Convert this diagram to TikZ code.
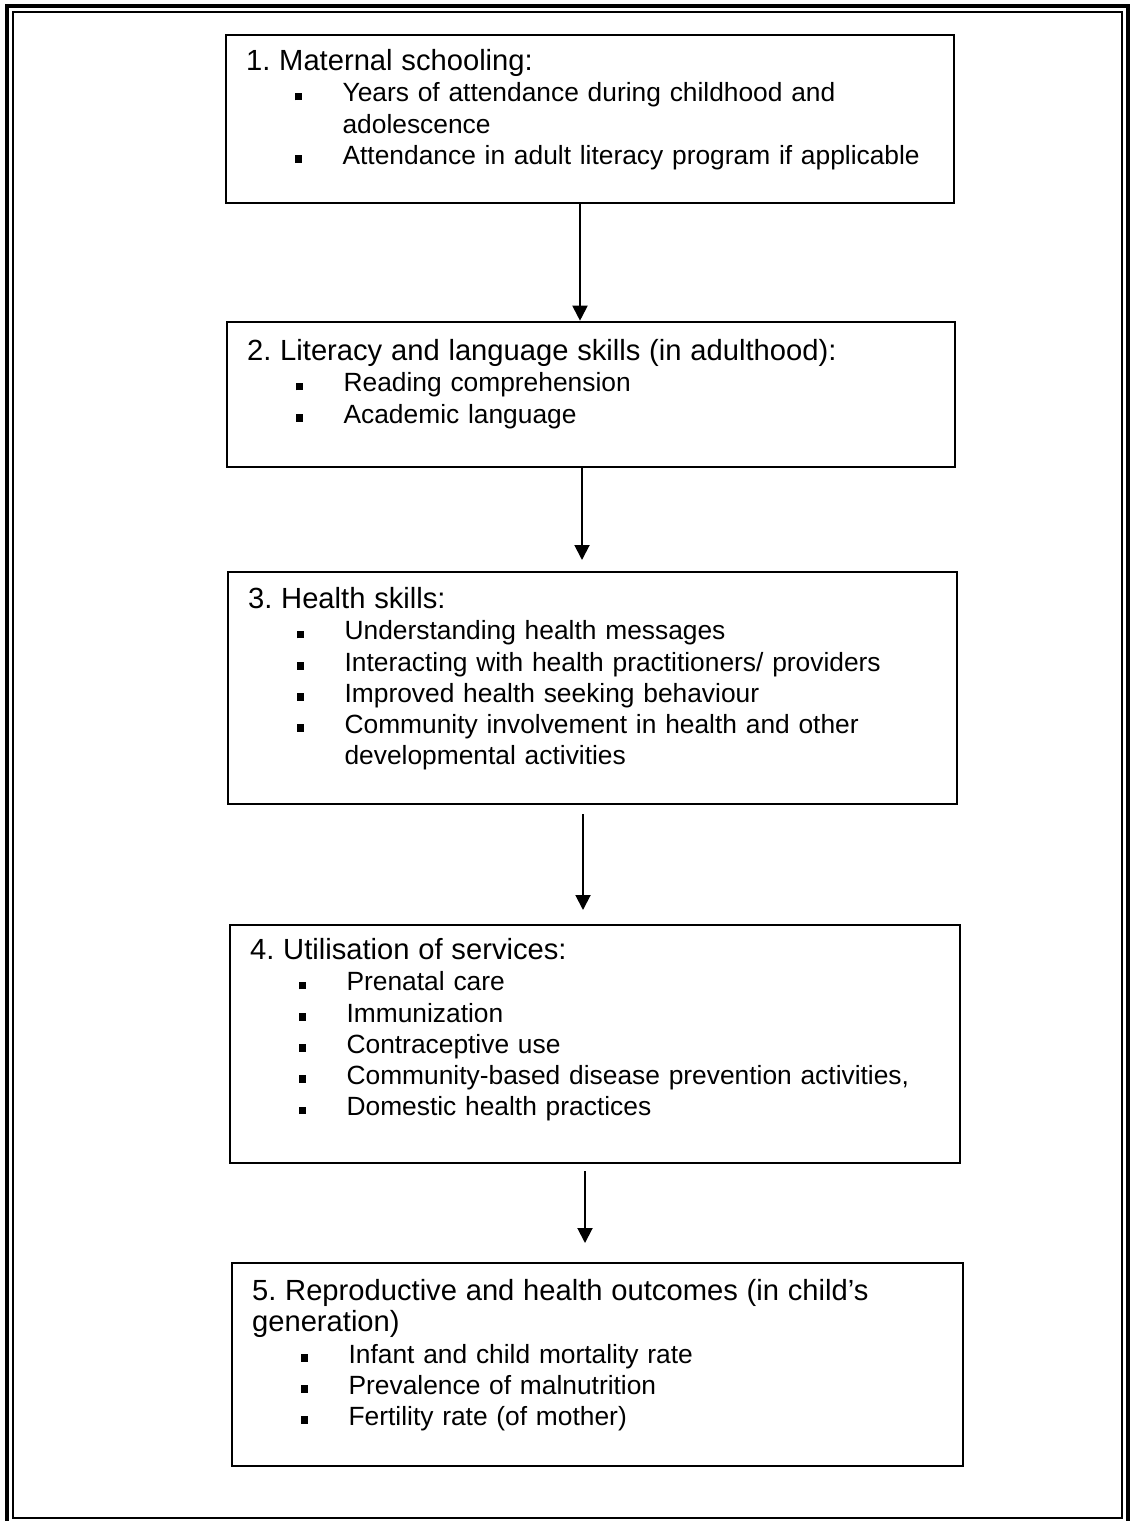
\documentclass[tikz,border=0pt]{standalone}
\usepackage{fontspec}
\setmainfont{Liberation Sans}
\usetikzlibrary{arrows.meta}

\newcommand{\sqtitle}[1]{{\fontsize{16.6}{17.75}\selectfont #1\par}}
\newcommand{\sqitem}[1]{\par\hangindent=1.93cm\hangafter=1\noindent\hspace*{0.97cm}\rule[0.03cm]{0.15cm}{0.15cm}\hspace*{0.81cm}#1\par}

\begin{document}
\begin{tikzpicture}[x=0.02cm, y=-0.02cm,
  stage/.style={draw,line width=1.5pt,inner sep=0pt},
  stagetext/.style={anchor=base west,inner sep=0pt,text width=14.2cm,align=left,
    font=\fontsize{15}{17.75}\selectfont\frenchspacing},
  flow/.style={-{Triangle[width=0.3cm,length=0.3cm]},line width=1.1pt}]
  \useasboundingbox (0,0) rectangle (1136,1521);

  % Double frame
  \draw[line width=2pt] (7,6) rectangle (1128,1530);
  \draw[line width=0.9pt] (13,12) rectangle (1122,1518);

  % Stage boxes
  \node[stage,minimum width=14.56cm,minimum height=3.36cm] (s1) at (590,119) {};
  \node[stage,minimum width=14.56cm,minimum height=2.90cm] (s2) at (591,394.5) {};
  \node[stage,minimum width=14.58cm,minimum height=4.64cm] (s3) at (592.5,688) {};
  \node[stage,minimum width=14.60cm,minimum height=4.76cm] (s4) at (595,1044) {};
  \node[stage,minimum width=14.62cm,minimum height=4.06cm] (s5) at (597.5,1364.5) {};

  % Box texts
  \node[stagetext] (n1) at ([shift={(21,37)}]s1.north west) {\sqtitle{1. Maternal schooling:}
    \sqitem{Years of attendance during childhood and\newline adolescence}
    \sqitem{Attendance in adult literacy program if applicable}};
  \node[stagetext] (n2) at ([shift={(21,40)}]s2.north west) {\sqtitle{2. Literacy and language skills (in adulthood):}
    \sqitem{Reading comprehension}
    \sqitem{Academic language}};
  \node[stagetext] (n3) at ([shift={(21,38)}]s3.north west) {\sqtitle{3. Health skills:}
    \sqitem{Understanding health messages}
    \sqitem{Interacting with health practitioners/ providers}
    \sqitem{Improved health seeking behaviour}
    \sqitem{Community involvement in health and other\newline developmental activities}};
  \node[stagetext] (n4) at ([shift={(21,36)}]s4.north west) {\sqtitle{4. Utilisation of services:}
    \sqitem{Prenatal care}
    \sqitem{Immunization}
    \sqitem{Contraceptive use}
    \sqitem{Community-based disease prevention activities,}
    \sqitem{Domestic health practices}};
  \node[stagetext] (n5) at ([shift={(21,39)}]s5.north west) {\sqtitle{5. Reproductive and health outcomes (in child's\newline generation)}
    \sqitem{Infant and child mortality rate}
    \sqitem{Prevalence of malnutrition}
    \sqitem{Fertility rate (of mother)}};

  % Arrow ends
  \coordinate (t1) at (580,322);
  \coordinate (t2) at (582,560);
  \coordinate (t3) at (583,910);
  \coordinate (t4) at (585,1243);

  % Arrows
  \draw[flow] (t1 |- s1.south) -- (t1 |- s2.north);
  \draw[flow] (t2 |- s2.south) -- (t2);
  \draw[flow] ([yshift=-0.18cm]t3 |- s3.south) -- (t3);
  \draw[flow] ([yshift=-0.14cm]t4 |- s4.south) -- (t4);
\end{tikzpicture}
\end{document}
